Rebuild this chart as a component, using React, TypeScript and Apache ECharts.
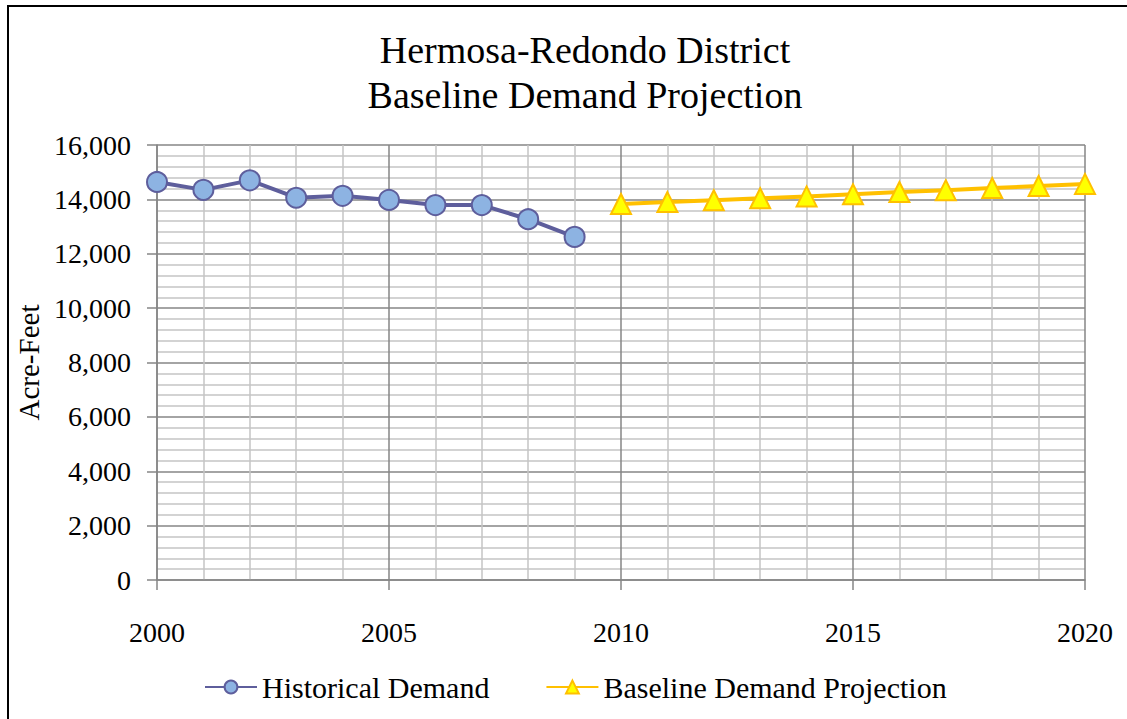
import React, { useEffect, useRef } from "react";
import * as echarts from "echarts";

const titleLines = ["Hermosa-Redondo District", "Baseline Demand Projection"];
const yAxisName = "Acre-Feet";
const historicalYears = [2000, 2001, 2002, 2003, 2004, 2005, 2006, 2007, 2008, 2009];
const historicalValues = [14640, 14350, 14700, 14060, 14130, 13980, 13790, 13790, 13270, 12620];
const projectionYears = [2010, 2011, 2012, 2013, 2014, 2015, 2016, 2017, 2018, 2019, 2020];
const projectionValues = [13830, 13900, 13970, 14040, 14110, 14190, 14270, 14340, 14420, 14490, 14570];
const seriesNames = ["Historical Demand", "Baseline Demand Projection"];

const FONT = "'Liberation Serif', 'DejaVu Serif', serif";

export default function App() {
  const ref = useRef<HTMLDivElement>(null);
  useEffect(() => {
    if (!ref.current) return;
    const chart = echarts.init(ref.current, null, { renderer: "svg" });
    chart.setOption({
      animation: false,
      backgroundColor: "#ffffff",
      textStyle: { fontFamily: FONT },
      title: {
        text: titleLines.join("\n"),
        left: 580,
        top: 22,
        textAlign: "center",
        textStyle: { fontFamily: FONT, fontSize: 38, fontWeight: "normal", color: "#000", lineHeight: 45 },
      },
      graphic: [
        {
          type: "rect",
          shape: { x: 8, y: 6, width: 1150, height: 750 },
          style: { fill: "none", stroke: "#000", lineWidth: 2 },
          silent: true,
        },
      ],
      legend: {
        top: 667,
        left: 199,
        itemGap: 56,
        itemWidth: 52,
        itemHeight: 16,
        textStyle: { fontFamily: FONT, fontSize: 30, color: "#000", padding: [0, 0, 0, 0] },
        data: seriesNames,
      },
      grid: { left: 157, right: 42, top: 145, bottom: 139, containLabel: false },
      xAxis: {
        type: "value",
        min: 2000,
        max: 2020,
        interval: 5,
        axisLine: { show: true, lineStyle: { color: "#868686", width: 1.5 } },
        axisTick: { show: true, length: 10, lineStyle: { color: "#868686", width: 1.5 } },
        axisLabel: {
          margin: 38,
          fontSize: 28,
          color: "#000",
          fontFamily: FONT,
          formatter: (v: number) => String(v),
        },
        splitLine: { show: true, lineStyle: { color: "#868686", width: 1.5 } },
        minorTick: { show: false, splitNumber: 5 },
        minorSplitLine: { show: true, lineStyle: { color: "#c4c4c4", width: 1.5 } },
      },
      yAxis: {
        type: "value",
        min: 0,
        max: 16000,
        interval: 2000,
        name: yAxisName,
        nameLocation: "middle",
        nameGap: 112,
        nameTextStyle: { fontFamily: FONT, fontSize: 29, color: "#000" },
        axisLine: { show: true, lineStyle: { color: "#868686", width: 1.5 } },
        axisTick: { show: true, length: 10, lineStyle: { color: "#868686", width: 1.5 } },
        axisLabel: {
          margin: 26,
          fontSize: 28,
          color: "#000",
          fontFamily: FONT,
          formatter: (v: number) => v.toLocaleString("en-US"),
        },
        splitLine: { show: true, lineStyle: { color: "#868686", width: 1.5 } },
        minorTick: { show: false, splitNumber: 5 },
        minorSplitLine: { show: true, lineStyle: { color: "#c4c4c4", width: 1.5 } },
      },
      series: [
        {
          name: seriesNames[0],
          type: "line",
          data: historicalYears.map((y, i) => [y, historicalValues[i]]),
          symbol: "circle",
          symbolSize: 20,
          lineStyle: { color: "#5E5E9C", width: 4 },
          itemStyle: { color: "#8DB3E2", borderColor: "#5E5E9C", borderWidth: 2 },
          z: 3,
        },
        {
          name: seriesNames[1],
          type: "line",
          data: projectionYears.map((y, i) => [y, projectionValues[i]]),
          symbol: "triangle",
          symbolSize: 20,
          lineStyle: { color: "#FFC000", width: 4 },
          itemStyle: { color: "#FFFF00", borderColor: "#FFC000", borderWidth: 2 },
          z: 3,
        },
      ],
    });
    return () => chart.dispose();
  }, []);
  return (
    <div
      ref={ref}
      style={{ position: "absolute", left: 0, top: 0, width: 1127, height: 719 }}
    />
  );
}
